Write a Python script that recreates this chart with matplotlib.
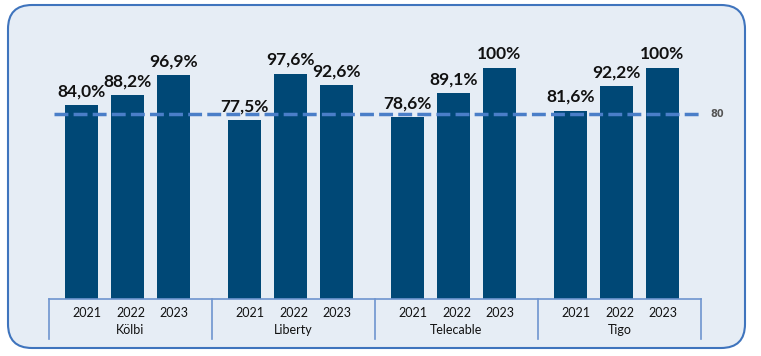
import numpy as np
import matplotlib.pyplot as plt
import matplotlib.transforms as mtransforms
from matplotlib.patches import FancyBboxPatch

plt.rcParams['font.family'] = ['Lato', 'DejaVu Sans']

# ------------------------
# Datos
# ------------------------
operadores = ['Kölbi', 'Liberty', 'Telecable', 'Tigo']
anios = ['2021', '2022', '2023']
valores = [
    [84.0, 88.2, 96.9],
    [77.5, 97.6, 92.6],
    [78.6, 89.1, 100.0],
    [81.6, 92.2, 100.0],
]
etiquetas = [
    ['84,0%', '88,2%', '96,9%'],
    ['77,5%', '97,6%', '92,6%'],
    ['78,6%', '89,1%', '100%'],
    ['81,6%', '92,2%', '100%'],
]
meta = 80

# ------------------------
# Estilo
# ------------------------
color_barra = '#004876'
color_meta = '#4a7ec8'
color_fondo = '#e6edf5'
color_borde = '#3f74bd'
color_eje = '#6f95cf'

W, H = 761, 356
fig = plt.figure(figsize=(W / 100, H / 100), dpi=100)
fig.patch.set_facecolor('white')

# caja redondeada (en pixeles), detras de todo
caja = FancyBboxPatch((8, 8), 737, 343, boxstyle="round,pad=0,rounding_size=24",
                      transform=mtransforms.IdentityTransform(),
                      facecolor=color_fondo, edgecolor=color_borde, linewidth=1.5,
                      zorder=-10)
fig.patches.append(caja)

def fy(ypx):
    return 1 - ypx / H

base_px = 299
px_unidad = 2.31
ax = fig.add_axes([49 / W, fy(base_px), (701 - 49) / W, (base_px - 20) / H])
ax.set_ylim(0, (base_px - 20) / px_unidad)
ax.patch.set_alpha(0)

gstep = 163 / 46
desfase = 0.07
ancho = 0.72

for g, vals in enumerate(valores):
    xs = g * gstep + np.arange(len(vals))
    barras = ax.bar(xs, vals, width=ancho, color=color_barra, zorder=2)
    for b, lab in zip(barras, etiquetas[g]):
        ax.annotate(lab, (b.get_x() + b.get_width() / 2, b.get_height()),
                    xytext=(0, 4), textcoords='offset points',
                    ha='center', va='bottom', fontsize=12.5, fontweight='bold',
                    color='#111111')

centros = np.arange(len(operadores)) * gstep + 1 + desfase
izq = centros[0] - gstep / 2
der = centros[-1] + gstep / 2
ax.set_xlim(izq, der)

# linea de meta
ax.plot([izq + 0.1, der], [meta, meta], color=color_meta, lw=2.5,
        ls=(0, (4, 1.5)), zorder=3, clip_on=False)
ax.text(der + 0.2, meta, str(meta), ha='left', va='center', fontsize=7,
        fontweight='bold', color='#555555', family='DejaVu Sans')

# ejes
for s in ['top', 'right', 'left']:
    ax.spines[s].set_visible(False)
ax.spines['bottom'].set_color(color_eje)
ax.spines['bottom'].set_linewidth(1.2)
ax.set_xticks([])
ax.set_yticks([])

# eje de categorias de dos niveles
trans = mtransforms.blended_transform_factory(ax.transData, fig.transFigure)
for sep in np.append(centros - gstep / 2, der):
    ax.plot([sep, sep], [fy(base_px), fy(339)], color=color_eje, lw=1.2,
            transform=trans, clip_on=False)
for c, nombre in zip(centros, operadores):
    for k, a in enumerate(anios):
        ax.text(c + (k - 1) * 0.94, fy(313), a, transform=trans, ha='center',
                va='center', fontsize=9, color='#111111')
    ax.text(c, fy(330), nombre, transform=trans, ha='center', va='center',
            fontsize=9, color='#111111')

fig.savefig('out.png', dpi=100, facecolor='white')
